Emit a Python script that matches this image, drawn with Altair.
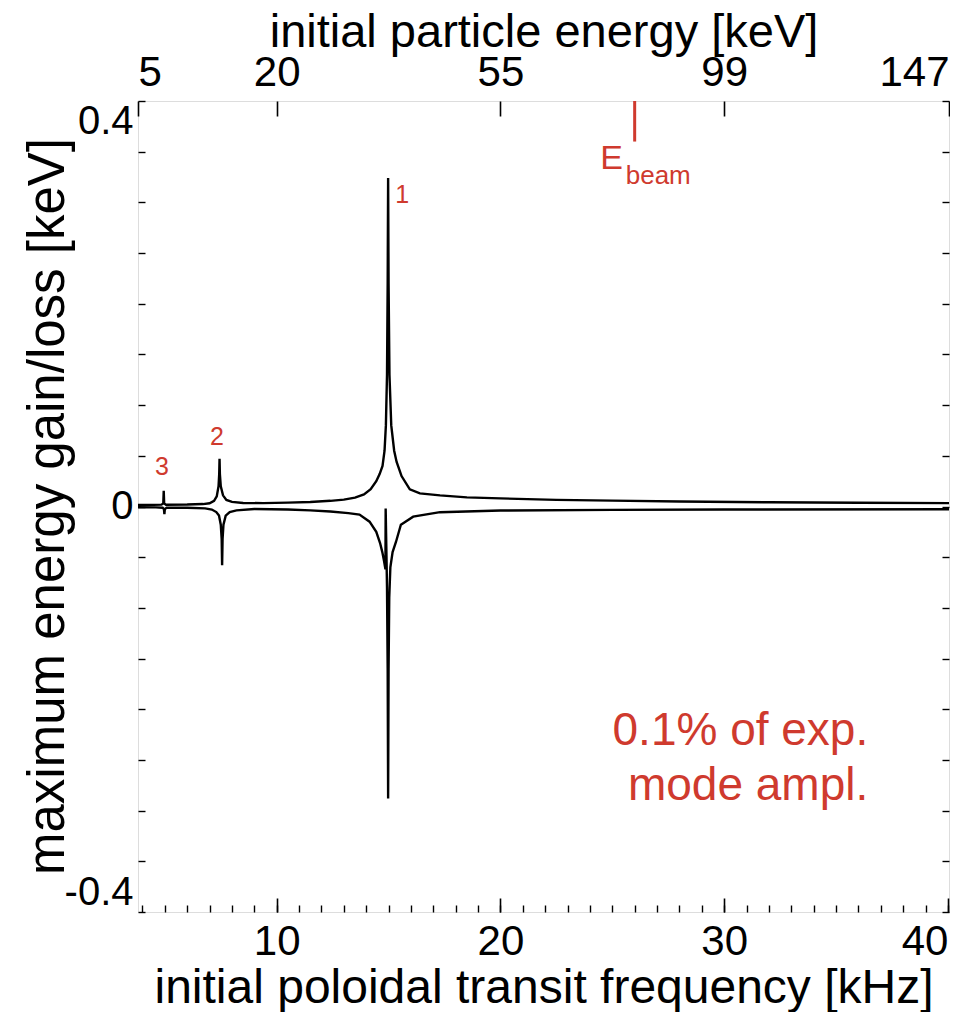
import altair as alt
import pandas as pd

# ---------------- data ----------------
upper_freq = [3.8, 4.5, 4.85, 4.93, 4.95, 4.97, 5.05, 6.0, 6.7, 7.0, 7.2, 7.32, 7.40, 7.43, 7.445,
              7.46, 7.50, 7.6, 7.75, 8.0, 8.5, 9.4, 10.5, 11.5, 12.4, 13.0, 13.5, 13.9, 14.2, 14.45,
              14.6, 14.73, 14.82, 14.88, 14.93, 14.96, 14.98, 15.0, 15.04, 15.12, 15.25, 15.36, 15.58,
              15.95, 16.4, 17.3, 18.5, 20.0, 22.5, 25.0, 28.0, 32.0, 36.0, 40.05]
upper_gain = [0.0015, 0.0016, 0.0018, 0.003, 0.0155, 0.003, 0.0018, 0.0019, 0.0024, 0.0032, 0.0055,
              0.010, 0.020, 0.032, 0.047, 0.032, 0.020, 0.011, 0.0065, 0.0045, 0.0035, 0.0033, 0.0038,
              0.0045, 0.0056, 0.0068, 0.0088, 0.012, 0.017, 0.025, 0.032, 0.040, 0.055, 0.08, 0.13,
              0.22, 0.324, 0.22, 0.13, 0.08, 0.055, 0.044, 0.030, 0.017, 0.013, 0.011, 0.009, 0.008,
              0.0065, 0.0058, 0.005, 0.0042, 0.0037, 0.0033]

lower_freq = [3.8, 4.6, 4.9, 4.96, 4.98, 5.0, 5.08, 6.0, 6.8, 7.1, 7.3, 7.42, 7.5, 7.54, 7.56, 7.58,
              7.62, 7.72, 7.9, 8.2, 9.0, 10.5, 11.5, 12.4, 13.2, 13.7, 14.15, 14.45, 14.62, 14.72,
              14.8, 14.86, 14.87, 14.93, 14.96, 14.98, 15.0, 15.03, 15.08, 15.18, 15.33, 15.55, 16.1,
              17.3, 20.0, 25.0, 30.0, 40.05]
lower_loss = [-0.0008, -0.0009, -0.0012, -0.0025, -0.0076, -0.0025, -0.0012, -0.0012, -0.0018, -0.003,
              -0.0055, -0.009, -0.018, -0.032, -0.058, -0.032, -0.018, -0.009, -0.0055, -0.0038,
              -0.0025, -0.003, -0.0038, -0.005, -0.0065, -0.008, -0.015, -0.025, -0.036, -0.045,
              -0.054, -0.062, -0.002, -0.08, -0.16, -0.288, -0.16, -0.09, -0.06, -0.045, -0.035,
              -0.018, -0.010, -0.0056, -0.004, -0.0033, -0.003, -0.0027]

x_domain = [3.8, 40.05]
y_domain = [-0.4, 0.4]
bottom_major_ticks = [10, 20, 30, 40]
bottom_minor_ticks = list(range(4, 41))
y_ticks = [-0.4, -0.35, -0.3, -0.25, -0.2, -0.15, -0.1, -0.05, 0.0,
           0.05, 0.1, 0.15, 0.2, 0.25, 0.3, 0.35, 0.4]
top_tick_freq = [3.8, 10, 20, 30, 40.05]
top_tick_labels = ["5", "20", "55", "99", "147"]

beam_freq = [26.0]
beam_top = [0.4]
beam_bottom = [0.36]

peak_label_freq = [15.61, 7.33, 4.87]
peak_label_val = [0.307, 0.069, 0.039]
peak_label_text = ["1", "2", "3"]

note_lines = ["0.1% of exp.", "mode ampl."]
note_freq = [36.44]
note_val = [-0.235]

RED = "#cf3a2e"
FONT = "Liberation Sans"

# ---------------- tables ----------------
curves = pd.concat([
    pd.DataFrame({"f": upper_freq, "v": upper_gain, "curve": "gain",
                  "idx": range(len(upper_freq))}),
    pd.DataFrame({"f": lower_freq, "v": lower_loss, "curve": "loss",
                  "idx": range(len(lower_freq))}),
], ignore_index=True)

beam_df = pd.DataFrame({"f": beam_freq, "y1": beam_top, "y2": beam_bottom})
peaks_df = pd.DataFrame({"f": peak_label_freq, "v": peak_label_val, "t": peak_label_text})
note_df = pd.DataFrame({"f": note_freq, "v": note_val, "t": [note_lines]})
ebeam_df = pd.DataFrame({"f": [24.97], "v": [0.343], "t": ["E"]})
sub_df = pd.DataFrame({"f": [25.6], "v": [0.318], "t": ["beam"]})

xs = alt.Scale(domain=x_domain, nice=False, zero=False)
ys = alt.Scale(domain=y_domain, nice=False, zero=False)

top_map = "{" + ", ".join(f"'{v}': '{t}'" for v, t in zip(top_tick_freq, top_tick_labels)) + "}"

axis_x_major = alt.Axis(orient="bottom", values=bottom_major_ticks, tickSize={"expr": "-14"},
                        tickWidth=1.6, tickColor="black", labelPadding=23, labelFlush=5,
                        labelFont=FONT, labelFontSize=42, labelColor="black", format="d",
                        title="initial poloidal transit frequency [kHz]", titleFont=FONT,
                        titleFontSize=48, titleFontWeight="normal", titleColor="black",
                        titleBaseline="alphabetic", titleY=90,
                        domain=False, grid=False)
axis_x_minor = alt.Axis(orient="bottom", values=bottom_minor_ticks, tickSize={"expr": "-7"},
                        tickWidth=1.4, tickColor="black", labels=False, title=None,
                        domain=False, grid=False)
axis_x_top = alt.Axis(orient="top", values=top_tick_freq, tickSize={"expr": "-15"},
                      tickWidth=1.6, tickColor="black", labelPadding=22, labelFlush=3,
                      labelExpr=f"{top_map}[datum.value + '']",
                      labelFont=FONT, labelFontSize=42, labelColor="black",
                      title="initial particle energy [keV]", titleFont=FONT, titleFontSize=47,
                      titleFontWeight="normal", titleColor="black",
                      titleBaseline="alphabetic", titleY=-55,
                      domain=False, grid=False)
axis_y_left = alt.Axis(orient="left", values=y_ticks, tickSize={"expr": "-7"}, tickWidth=1.4,
                       tickColor="black", labelPadding=12, labelFlush=3,
                       labelExpr="abs(datum.value) < 1e-9 ? '0' : abs(datum.value - 0.4) < 1e-9 ? '0.4' : abs(datum.value + 0.4) < 1e-9 ? '-0.4' : ''",
                       labelFont=FONT, labelFontSize=40, labelColor="black",
                       title="maximum energy gain/loss [keV]", titleFont=FONT, titleFontSize=51,
                       titleFontWeight="normal", titleColor="black",
                       titleBaseline="alphabetic", titleX=-75, titleY=405,
                       domain=False, grid=False)
axis_y_right = alt.Axis(orient="right", values=y_ticks, tickSize={"expr": "-7"}, tickWidth=1.4,
                        tickColor="black", labels=False, title=None, domain=False, grid=False)

lines = alt.Chart(curves).mark_line(color="black", strokeWidth=2.4, clip=True).encode(
    x=alt.X("f:Q", scale=xs, axis=axis_x_major),
    y=alt.Y("v:Q", scale=ys, axis=axis_y_left),
    detail="curve:N",
    order="idx:Q",
)

beam = alt.Chart(beam_df).mark_rule(color=RED, strokeWidth=3).encode(
    x=alt.X("f:Q", scale=xs, axis=axis_x_top),
    y=alt.Y("y1:Q", scale=ys, axis=axis_y_right),
    y2="y2:Q",
)

peaks = alt.Chart(peaks_df).mark_text(color=RED, font=FONT, fontSize=25).encode(
    x=alt.X("f:Q", scale=xs, axis=axis_x_minor),
    y=alt.Y("v:Q", scale=ys, axis=None),
    text="t:N",
)

ebeam = alt.Chart(ebeam_df).mark_text(color=RED, font=FONT, fontSize=34, baseline="middle").encode(
    x=alt.X("f:Q", scale=xs, axis=None),
    y=alt.Y("v:Q", scale=ys, axis=None),
    text="t:N",
)
sub = alt.Chart(sub_df).mark_text(color=RED, font=FONT, fontSize=26, align="left",
                                  baseline="alphabetic").encode(
    x=alt.X("f:Q", scale=xs, axis=None),
    y=alt.Y("v:Q", scale=ys, axis=None),
    text="t:N",
)

note = alt.Chart(note_df).mark_text(color=RED, font=FONT, fontSize=46, align="right",
                                    baseline="alphabetic", lineHeight=55).encode(
    x=alt.X("f:Q", scale=xs, axis=None),
    y=alt.Y("v:Q", scale=ys, axis=None),
    text="t",
)

chart = alt.layer(lines, beam, peaks, ebeam, sub, note).resolve_axis(
    x="independent", y="independent"
).properties(
    width=811, height=811,
    padding={"left": 14, "top": 0, "right": 0, "bottom": 0}
).configure_view(
    stroke="black", strokeWidth=2
).configure(background="white")

chart.save("out.html", embed_options={"renderer": "svg", "actions": False})
